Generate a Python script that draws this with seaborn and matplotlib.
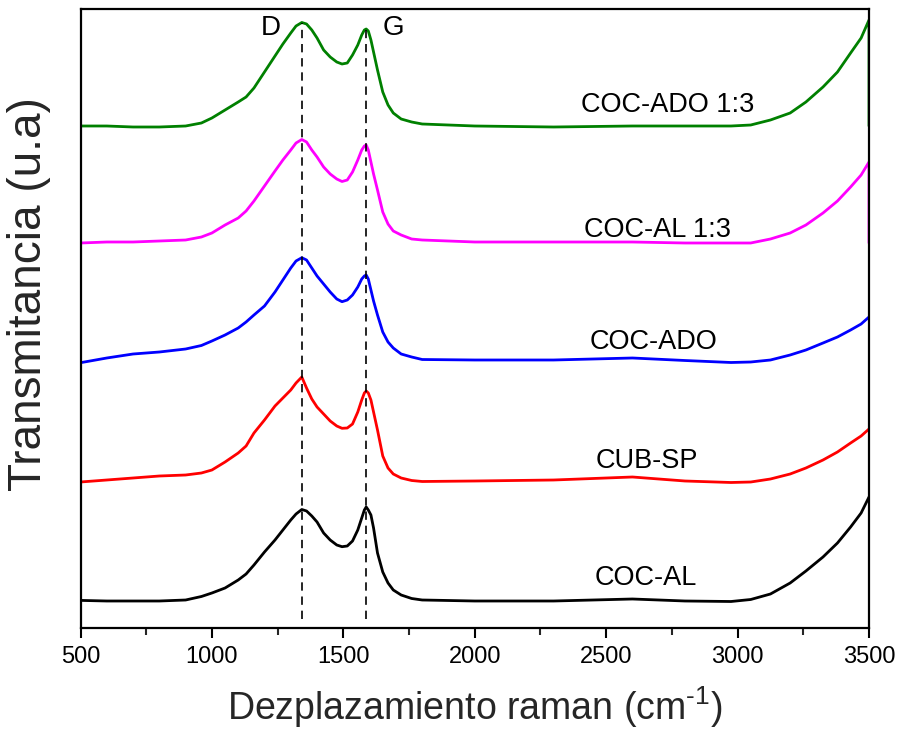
import numpy as np
import pandas as pd
import matplotlib
matplotlib.use("Agg")
import matplotlib.pyplot as plt
import seaborn as sns

# Raman shift grid (cm^-1)
wavenumber = [500, 600, 700, 800, 900, 960, 1000, 1050, 1100, 1130,
              1160, 1200, 1240, 1270, 1300, 1320, 1342, 1360, 1380, 1400,
              1425, 1450, 1475, 1495, 1515, 1535, 1555, 1570, 1580, 1587,
              1595, 1605, 1615, 1630, 1650, 1670, 1690, 1720, 1760, 1800,
              2000, 2300, 2600, 2800, 2975, 3050, 3125, 3200, 3260, 3325,
              3380, 3430, 3470, 3500]

# Offset intensities (arbitrary units)
coc_ado_13 = [502, 502, 501, 501, 502, 505, 510, 518, 526, 531,
              540, 556, 572, 584, 595, 602, 605.5, 604, 598, 590,
              578, 571, 566, 564, 565, 573, 583, 593, 598, 599,
              597, 588, 576, 558, 536, 523, 515, 509, 506, 504,
              502, 501, 502, 502, 502, 503, 508, 515, 526, 541,
              556, 575, 590, 608]
coc_al_13 = [385, 386, 386, 387, 388, 391, 395, 403, 410, 417,
             427, 442, 457, 468, 478, 485, 488.5, 486, 478, 471,
             461, 454, 449, 446.5, 448, 456, 468, 478, 482, 483,
             478, 466, 454, 438, 416, 404, 397, 393, 389, 388,
             386, 386, 386, 385, 385, 385, 389, 395, 403, 415,
             427, 441, 453, 466]
coc_ado = [265.3, 270, 274, 276, 279, 282.5, 287, 293, 300, 306,
           313, 322, 336, 348, 360, 367, 370.3, 368, 360, 352,
           344, 336, 329, 326.3, 328, 333, 341, 349, 352, 353,
           349, 338, 327, 313, 296, 286, 280, 274, 271, 268.5,
           268, 268, 270, 267.5, 265.5, 266, 268, 273, 278, 285,
           291, 298, 304, 311]
cub_sp = [146, 148, 150, 152, 153, 155, 158, 166, 175, 182,
          195, 208, 222, 230, 238, 245, 251, 240, 229, 221,
          214, 207, 202, 199.7, 200, 204, 216, 228, 235, 237,
          235, 228, 216, 198, 172, 160, 154, 150, 147.5, 146.5,
          147, 148, 151, 147, 145.5, 146, 149, 154, 160, 168,
          176, 185, 192, 199]
coc_al = [27.6, 27, 27, 27, 28, 31.5, 35, 40, 48, 54,
          63, 76, 88, 98, 108, 114, 118.5, 117, 112, 106,
          95, 88, 83, 81.3, 82, 87, 98, 110, 118, 121,
          118, 113, 100, 75, 56, 45, 38, 33, 29.5, 28,
          27, 27, 29, 27, 26.5, 28.5, 34, 45, 57, 71,
          85, 101, 115, 131]

# End points of the vertical drop at 3500 for the two top spectra
drop_end = {"COC-ADO 1:3": 502, "COC-AL 1:3": 385}

series_names = ["COC-ADO 1:3", "COC-AL 1:3", "COC-ADO", "CUB-SP", "COC-AL"]
series_values = [coc_ado_13, coc_al_13, coc_ado, cub_sp, coc_al]
series_colors = ["#008000", "#ff00ff", "#0000ff", "#ff0000", "#000000"]

# label positions (data coords)
label_x = [2733, 2695, 2680, 2653, 2649]
label_y = [523, 398, 286, 167, 50]

# band markers
band_names = ["D", "G"]
band_pos = [1342, 1587]
band_top = [605, 598]
band_label_x = [1222, 1690]
band_label_y = [600, 600]

sns.set_theme(style="ticks")
plt.rcParams["font.family"] = ["Liberation Sans", "DejaVu Sans"]
plt.rcParams["mathtext.fontset"] = "custom"
plt.rcParams["mathtext.rm"] = "Liberation Sans"
plt.rcParams["mathtext.it"] = "Liberation Sans:italic"
plt.rcParams["mathtext.bf"] = "Liberation Sans:bold"

fig = plt.figure(figsize=(9.01, 7.38), dpi=100)
ax = fig.add_axes([80.5 / 901, 1 - 628 / 738, (869 - 80.5) / 901, (628 - 8.5) / 738])

rows = []
for name, vals in zip(series_names, series_values):
    xs = list(wavenumber)
    ys = list(vals)
    if name in drop_end:
        xs.append(wavenumber[-1])
        ys.append(drop_end[name])
    for i, (x, y) in enumerate(zip(xs, ys)):
        rows.append({"shift": x, "intensity": y, "sample": name, "order": i})
df = pd.DataFrame(rows)

for name, color in zip(series_names, series_colors):
    sub = df[df["sample"] == name]
    sns.lineplot(data=sub, x="shift", y="intensity", color=color, lw=2.0,
                 sort=False, estimator=None, ax=ax, legend=False)

ax.vlines(band_pos, ymin=9, ymax=band_top, colors="black", linestyles=(0, (5, 3.5)), lw=1.2)

for name, x, y in zip(series_names, label_x, label_y):
    ax.text(x, y, name, ha="center", va="center", fontsize=19.5, color="black")
for name, x, y in zip(band_names, band_label_x, band_label_y):
    ax.text(x, y, name, ha="center", va="center", fontsize=20, color="black")

ax.set_xlim(500, 3500)
ax.set_ylim(0, 619.5)
ax.set_yticks([])
ax.set_xticks([500, 1000, 1500, 2000, 2500, 3000, 3500])
ax.set_xticks([750, 1250, 1750, 2250, 2750, 3250], minor=True)
ax.tick_params(axis="x", which="major", direction="out", length=7, width=1.5,
               labelsize=17, pad=6, colors="black")
ax.tick_params(axis="x", which="minor", direction="out", length=5, width=1.5)
for s in ax.spines.values():
    s.set_visible(True)
    s.set_linewidth(1.6)
    s.set_color("black")

ax.set_xlabel(r"Dezplazamiento raman (cm$^{\text{-1}}$)", fontsize=27, labelpad=12)
ax.set_ylabel("Transmitancia (u.a)", fontsize=33)
ax.yaxis.set_label_coords(-0.037, 0.539)

fig.savefig("out.png", dpi=100)
